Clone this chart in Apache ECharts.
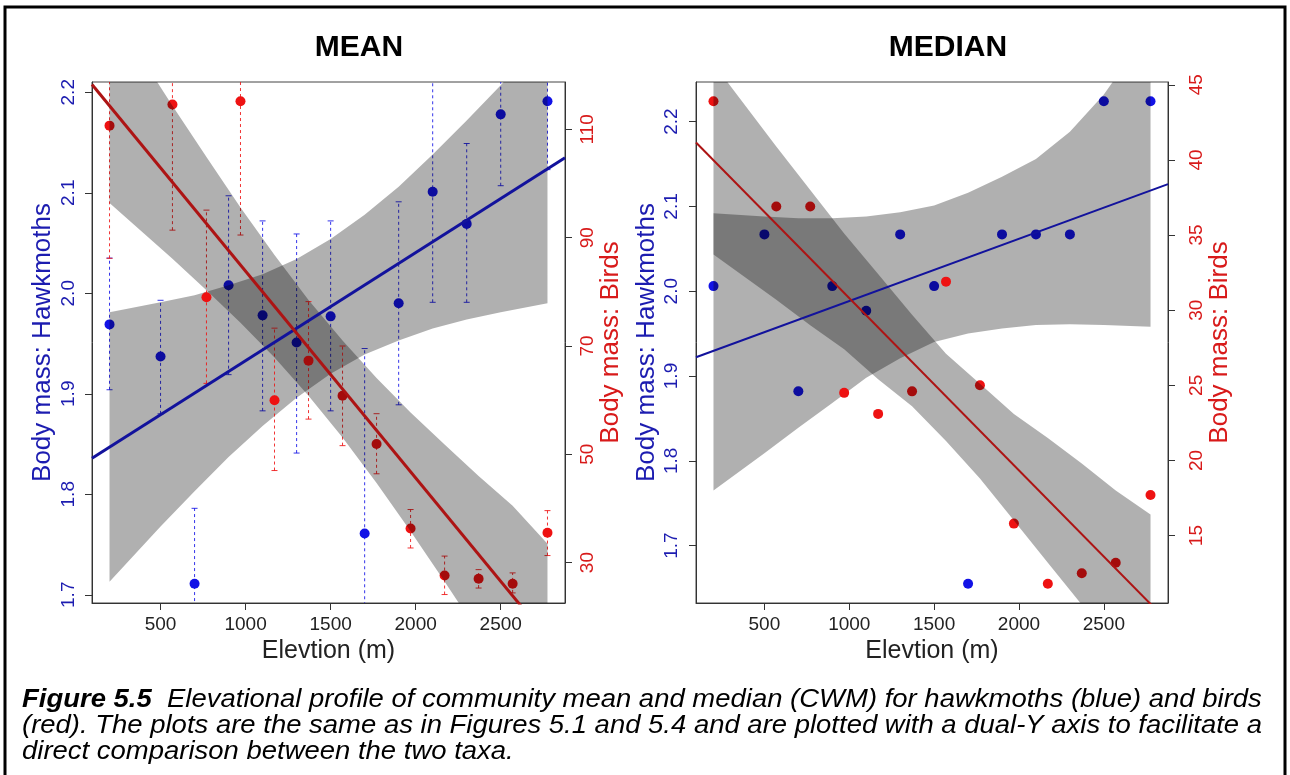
<!DOCTYPE html>
<html>
<head>
<meta charset="utf-8">
<script src="https://cdn.jsdelivr.net/npm/echarts@6/dist/echarts.min.js"></script>
<style>
  html, body { margin: 0; padding: 0; background: #fff; }
  #chart { width: 1290px; height: 775px; }
</style>
</head>
<body>
<div id="chart"></div>
<script>
// Elevation of each sampling band (m); bird points sit slightly offset
const elevHawk  = [200, 500, 700, 900, 1100, 1300, 1500, 1700, 1900, 2100, 2300, 2500, 2775];
const elevBirds = [200, 570, 770, 970, 1170, 1370, 1570, 1770, 1970, 2170, 2370, 2570, 2775];

// Community mean body mass with error-bar limits
const hawkMean     = [1.969, 1.937, 1.711, 2.008, 1.978, 1.951, 1.977, 1.761, 1.990, 2.101, 2.069, 2.178, 2.191];
const hawkMeanLow  = [1.904, 1.880, 1.640, 1.919, 1.883, 1.841, 1.883, 1.600, 1.889, 1.991, 1.991, 2.107, 2.123];
const hawkMeanHigh = [2.035, 1.993, 1.786, 2.097, 2.072, 2.059, 2.072, 1.945, 2.091, 2.240, 2.149, 2.250, 2.260];
const birdsMean     = [110.7, 114.6, 79.0, 115.2, 60.0, 67.3, 60.8, 51.9, 36.3, 27.6, 27.0, 26.1, 35.5];
const birdsMeanLow  = [86.2, 91.4, 63.1, 90.5, 47.0, 56.5, 51.6, 46.4, 32.7, 24.1, 25.3, 24.4, 31.3];
const birdsMeanHigh = [140, 140, 95.1, 140, 73.3, 78.2, 70.0, 57.5, 39.8, 31.2, 28.7, 28.1, 39.6];

// Community median body mass
const hawkMedian  = [2.006, 2.067, 1.882, 2.006, 1.977, 2.067, 2.006, 1.655, 2.067, 2.067, 2.067, 2.224, 2.224];
const birdsMedian = [43.9, 36.9, 36.9, 24.5, 23.1, 24.6, 31.9, 25.0, 15.8, 11.8, 12.5, 13.2, 17.7];

// Confidence bands of the fitted trends (upper / lower limits at each elevation)
const hawkMeanBandHigh  = [1.981, 1.991, 1.998, 2.008, 2.019, 2.034, 2.054, 2.078, 2.106, 2.138, 2.172, 2.207, 2.258];
const hawkMeanBandLow   = [1.713, 1.768, 1.803, 1.837, 1.868, 1.896, 1.920, 1.939, 1.953, 1.965, 1.974, 1.981, 1.990];
const birdsMeanBandHigh = [132.4, 114.4, 104.9, 95.6, 86.8, 78.5, 71.0, 64.1, 57.7, 51.8, 46.0, 40.5, 33.5];
const birdsMeanBandLow  = [96.4, 86.1, 80.3, 74.3, 67.9, 60.8, 53.1, 44.7, 35.8, 26.5, 17.0, 7.3, -3.0];
const hawkMedianBandHigh  = [2.092, 2.088, 2.086, 2.086, 2.088, 2.093, 2.101, 2.116, 2.135, 2.156, 2.188, 2.232, 2.310];
const hawkMedianBandLow   = [1.765, 1.809, 1.839, 1.868, 1.898, 1.921, 1.940, 1.950, 1.956, 1.960, 1.961, 1.960, 1.958];
const birdsMedianBandHigh = [46.4, 40.9, 38.0, 35.1, 32.4, 29.7, 27.1, 25.1, 23.1, 21.5, 19.8, 18.0, 16.4];
const birdsMedianBandLow  = [33.7, 30.7, 29.0, 27.4, 25.4, 23.6, 21.3, 18.8, 16.0, 13.2, 10.4, 7.3, 4.3];

// Fitted regression lines, evaluated at the ends of the elevation axis
const fitElev         = [97, 2878];
const hawkMeanFit     = [1.8358, 2.1349];
const birdsMeanFit    = [118.29, 12.11];
const hawkMedianFit   = [1.9221, 2.1263];
const birdsMedianFit  = [41.16, 9.27];

// Tick labels
const elevTicks        = [500, 1000, 1500, 2000, 2500];
const hawkTicks        = [1.7, 1.8, 1.9, 2.0, 2.1, 2.2];
const birdsMeanTicks   = [30, 50, 70, 90, 110];
const birdsMedianTicks = [15, 20, 25, 30, 35, 40, 45];

// Figure caption, one entry per printed line
const captionLead = 'Figure 5.5';
const captionLines = [
  'Elevational profile of community mean and median (CWM) for hawkmoths (blue) and birds',
  '(red). The plots are the same as in Figures 5.1 and 5.4 and are plotted with a dual-Y axis to facilitate a',
  'direct comparison between the two taxa.'
];

const FONT = '"Liberation Sans", Arial, Helvetica, sans-serif';
const BLUE = '#1212e6';
const RED = '#ee1212';
const BLUE_TEXT = '#1c1cb0';
const RED_TEXT = '#d81a1a';
const BLUE_LINE = '#12129c';
const RED_LINE = '#ad1414';
const BAND_FILL = 'rgba(0,0,0,0.31)';
const INK = '#333';

// axis range padded by 4% on each side of the data
function pad(vals) {
  const lo = Math.min(...vals), hi = Math.max(...vals), s = (hi - lo) * 0.04;
  return [lo - s, hi + s];
}
const xRange = pad(elevHawk.concat(elevBirds));

function xAx(gi) {
  return {
    gridIndex: gi, type: 'value', min: xRange[0], max: xRange[1],
    splitLine: { show: false },
    axisLine: { show: true, lineStyle: { color: INK, width: 1 } },
    axisTick: { show: true, length: 7, customValues: elevTicks, lineStyle: { color: INK } },
    axisLabel: {
      customValues: elevTicks, color: '#222', fontSize: 19, fontFamily: FONT, margin: 12,
      formatter: v => String(v)
    },
    name: 'Elevtion (m)', nameLocation: 'middle', nameGap: 36,
    nameTextStyle: { color: '#222', fontSize: 25, fontFamily: FONT }
  };
}

function yAx(gi, pos, vals, ticks, color, name, digits, margin, nameGap) {
  const r = pad(vals);
  return {
    gridIndex: gi, type: 'value', position: pos, min: r[0], max: r[1],
    splitLine: { show: false },
    axisLine: { show: true, onZero: false, lineStyle: { color: INK, width: 1 } },
    axisTick: { show: true, length: 7, customValues: ticks, lineStyle: { color: INK } },
    axisLabel: {
      customValues: ticks, rotate: 90, color, fontSize: 19, fontFamily: FONT, margin,
      formatter: v => v.toFixed(digits)
    },
    name, nameLocation: 'middle', nameGap, nameRotate: 90,
    nameTextStyle: { color, fontSize: 26, fontFamily: FONT }
  };
}

function points(xs, ys, color, xi, yi, z) {
  return {
    type: 'scatter', xAxisIndex: xi, yAxisIndex: yi, z, silent: true,
    symbol: 'circle', symbolSize: 10,
    itemStyle: { color, opacity: 1 },
    data: xs.map((x, i) => [x, ys[i]])
  };
}

function errorBars(xs, lo, hi, color, xi, yi, z) {
  return {
    type: 'custom', xAxisIndex: xi, yAxisIndex: yi, z, clip: true, silent: true,
    data: xs.map((x, i) => [x, lo[i], hi[i]]),
    encode: { x: 0, y: [1, 2] },
    renderItem(params, api) {
      const a = api.coord([api.value(0), api.value(1)]);
      const b = api.coord([api.value(0), api.value(2)]);
      const seg = (x1, y1, x2, y2, dash) => ({
        type: 'line', shape: { x1, y1, x2, y2 },
        style: { stroke: color, lineWidth: 1, lineDash: dash, opacity: 0.85 }
      });
      return {
        type: 'group',
        children: [
          seg(a[0], a[1], b[0], b[1], [3, 3]),
          seg(a[0] - 3, a[1], a[0] + 3, a[1], null),
          seg(b[0] - 3, b[1], b[0] + 3, b[1], null)
        ]
      };
    }
  };
}

function band(xs, lo, hi, xi, yi, z) {
  return {
    type: 'custom', xAxisIndex: xi, yAxisIndex: yi, z, clip: true, silent: true,
    data: [[xs[0], lo[0]]],
    encode: { x: 0, y: 1 },
    renderItem(params, api) {
      const top = xs.map((x, i) => api.coord([x, hi[i]]));
      const bottom = xs.map((x, i) => api.coord([x, lo[i]])).reverse();
      return { type: 'polygon', shape: { points: top.concat(bottom) }, style: { fill: BAND_FILL } };
    }
  };
}

function fitLine(ys, color, width, xi, yi, z) {
  return {
    type: 'line', xAxisIndex: xi, yAxisIndex: yi, z, clip: true, silent: true,
    symbol: 'none', lineStyle: { color, width },
    data: fitElev.map((x, i) => [x, ys[i]])
  };
}

// ---- caption: wide italic text; the longest line spans the text block ----
const CAP_SIZE = 25;
const capFont = 'italic ' + CAP_SIZE + 'px ' + FONT;
const measure = document.createElement('canvas').getContext('2d');
measure.font = capFont;
const capScale = (1262 - 22) / measure.measureText(captionLines[1]).width;

const capText = (text, y, rich) => ({
  type: 'text', x: 22, y, scaleX: capScale, silent: true,
  style: {
    text, font: capFont, fill: '#000', textVerticalAlign: 'middle',
    rich: rich || undefined
  }
});
const caption = [
  capText('{b|' + captionLead + '}  ' + captionLines[0], 700, {
    b: { fontWeight: 'bold', fontStyle: 'italic', fontSize: CAP_SIZE, fontFamily: FONT, fill: '#000' }
  }),
  capText(captionLines[1], 726),
  capText(captionLines[2], 752)
];

const chart = echarts.init(document.getElementById('chart'), null, { renderer: 'canvas' });

const textEl = (text, x, y, font, fill, align) => ({
  type: 'text', x, y, silent: true,
  style: { text, font, fill, textAlign: align || 'left', textVerticalAlign: 'middle' }
});

chart.setOption({
  animation: false,
  backgroundColor: '#fff',
  grid: [
    { left: 92, top: 82, width: 473, height: 521, show: true, borderColor: '#444', borderWidth: 1, backgroundColor: 'transparent' },
    { left: 696, top: 82, width: 472, height: 521, show: true, borderColor: '#444', borderWidth: 1, backgroundColor: 'transparent' }
  ],
  xAxis: [xAx(0), xAx(1)],
  yAxis: [
    yAx(0, 'left', hawkMean, hawkTicks, BLUE_TEXT, 'Body mass: Hawkmoths', 1, 14, 36),
    yAx(0, 'right', birdsMean, birdsMeanTicks, RED_TEXT, 'Body mass: Birds', 0, 13, 26),
    yAx(1, 'left', hawkMedian, hawkTicks, BLUE_TEXT, 'Body mass: Hawkmoths', 1, 15, 36),
    yAx(1, 'right', birdsMedian, birdsMedianTicks, RED_TEXT, 'Body mass: Birds', 0, 19, 28)
  ],
  series: [
    // MEAN panel: hawkmoths first, then birds drawn over them
    errorBars(elevHawk, hawkMeanLow, hawkMeanHigh, BLUE, 0, 0, 2),
    points(elevHawk, hawkMean, BLUE, 0, 0, 3),
    band(elevHawk, hawkMeanBandLow, hawkMeanBandHigh, 0, 0, 4),
    errorBars(elevBirds, birdsMeanLow, birdsMeanHigh, RED, 0, 1, 5),
    points(elevBirds, birdsMean, RED, 0, 1, 6),
    band(elevBirds, birdsMeanBandLow, birdsMeanBandHigh, 0, 1, 7),
    fitLine(hawkMeanFit, BLUE_LINE, 3, 0, 0, 8),
    fitLine(birdsMeanFit, RED_LINE, 3, 0, 1, 9),

    // MEDIAN panel
    points(elevHawk, hawkMedian, BLUE, 1, 2, 3),
    band(elevHawk, hawkMedianBandLow, hawkMedianBandHigh, 1, 2, 4),
    points(elevBirds, birdsMedian, RED, 1, 3, 6),
    band(elevBirds, birdsMedianBandLow, birdsMedianBandHigh, 1, 3, 7),
    fitLine(hawkMedianFit, BLUE_LINE, 2, 1, 2, 8),
    fitLine(birdsMedianFit, RED_LINE, 2, 1, 3, 9)
  ],
  graphic: [
    { type: 'rect', silent: true, shape: { x: 5, y: 7, width: 1280, height: 800 },
      style: { fill: 'none', stroke: '#000', lineWidth: 3 } },
    textEl('MEAN', 359, 48, 'bold 30px ' + FONT, '#000', 'center'),
    textEl('MEDIAN', 948, 48, 'bold 30px ' + FONT, '#000', 'center')
  ].concat(caption)
});
</script>
</body>
</html>
